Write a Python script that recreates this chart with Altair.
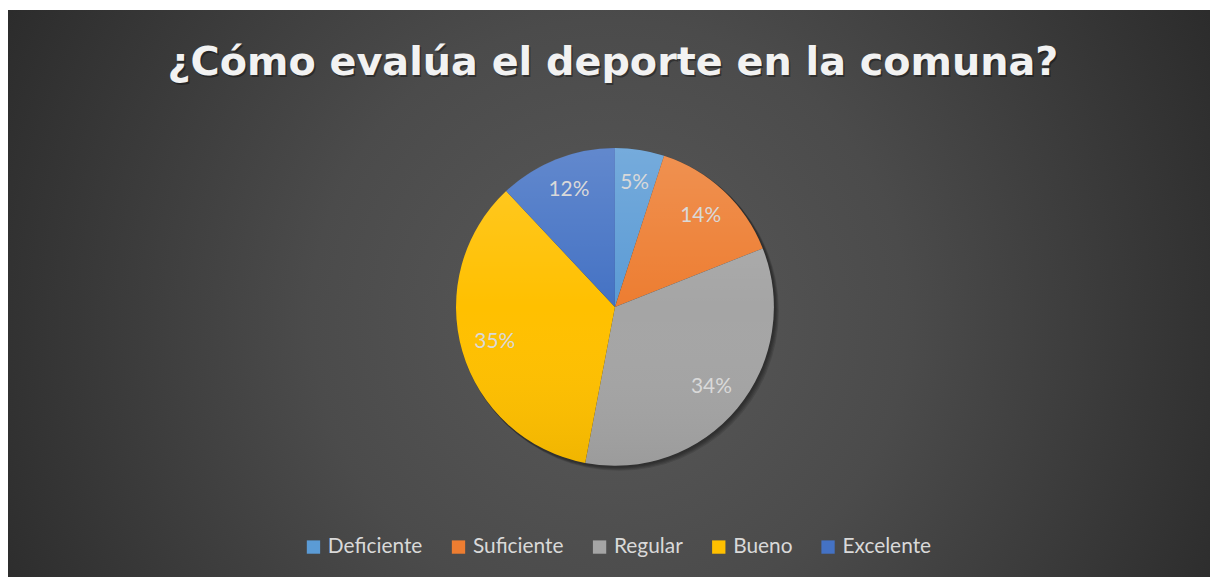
import math
import altair as alt
import pandas as pd

# ---- data ----
categories = ["Deficiente", "Suficiente", "Regular", "Bueno", "Excelente"]
values = [5, 14, 34, 35, 12]
colors = ["#5B9BD5", "#ED7D31", "#A5A5A5", "#FFC000", "#4472C4"]
title_text = "¿Cómo evalúa el deporte en la comuna?"

df = pd.DataFrame({
    "categoria": categories,
    "valor": values,
    "idx": list(range(len(categories))),
})
df["label"] = [f"{v}%" for v in values]

W, H = 1210, 571
CX, CY, R = 611, 299, 160
FONT = "Lato"
TFONT = "DejaVu Sans"

one = alt.Data(values=[{"a": 1}])

bg = alt.Chart(one).mark_rect(
    fill=alt.Gradient(
        gradient="radial",
        stops=[alt.GradientStop(color="#595959", offset=0),
               alt.GradientStop(color="#4b4b4b", offset=0.4),
               alt.GradientStop(color="#262626", offset=1)],
        x1=0.5, y1=0.52, r1=0, x2=0.5, y2=0.52, r2=0.62,
    )
).encode(x=alt.value(0), x2=alt.value(W), y=alt.value(0), y2=alt.value(H))

TX = 609
title_shadow = alt.Chart(one).mark_text(
    font=TFONT, fontSize=40, fontWeight="bold", color="#000000", opacity=0.35,
    align="center", baseline="alphabetic"
).encode(text=alt.value(title_text), x=alt.value(TX + 1.5), y=alt.value(68))

title = alt.Chart(one).mark_text(
    font=TFONT, fontSize=40, fontWeight="bold", color="#f2f2f2",
    align="center", baseline="alphabetic"
).encode(text=alt.value(title_text), x=alt.value(TX), y=alt.value(66))

shadows = [
    alt.Chart(one).mark_arc(theta=0, theta2=2 * math.pi, outerRadius=R + 1,
                            fill="#000000", opacity=0.12)
    .encode(x=alt.value(CX + d), y=alt.value(CY + d))
    for d in (1, 2, 3, 4)
]

base = alt.Chart(df)
theta = alt.Theta("valor:Q", stack=True)
order = alt.Order("idx:Q", sort="ascending")

pie = base.mark_arc(outerRadius=R).encode(
    theta=theta,
    order=order,
    x=alt.value(CX), y=alt.value(CY),
    color=alt.Color(
        "categoria:N",
        scale=alt.Scale(domain=categories, range=colors),
        sort=categories,
        legend=alt.Legend(
            title=None, orient="none", direction="horizontal",
            legendX=297, legendY=530,
            symbolType="square", symbolSize=180, symbolStrokeWidth=0,
            labelFont=FONT, labelFontSize=21, labelColor="#d9d9d9",
            labelOffset=4, columnPadding=25,
        ),
    ),
)

overlay = alt.Chart(one).mark_arc(
    theta=0, theta2=2 * math.pi, outerRadius=R,
    fill=alt.Gradient(
        gradient="linear",
        stops=[alt.GradientStop(color="rgba(255,255,255,0.16)", offset=0),
               alt.GradientStop(color="rgba(255,255,255,0.0)", offset=0.5),
               alt.GradientStop(color="rgba(0,0,0,0.06)", offset=1)],
        x1=0, y1=0, x2=0, y2=1,
    ),
).encode(x=alt.value(CX), y=alt.value(CY))

labels = base.mark_text(radius=126, font=FONT, fontSize=21, color="#d9d9d9").encode(
    theta=theta,
    order=order,
    x=alt.value(CX), y=alt.value(CY),
    text="label:N",
)

chart = alt.layer(bg, title_shadow, title, *shadows, pie, overlay, labels).properties(
    width=W, height=H, padding=0, autosize=alt.AutoSizeParams(type="none"),
    background="#ffffff",
).configure_view(stroke=None)

chart.save("out.html", embed_options={"renderer": "svg", "actions": False})
